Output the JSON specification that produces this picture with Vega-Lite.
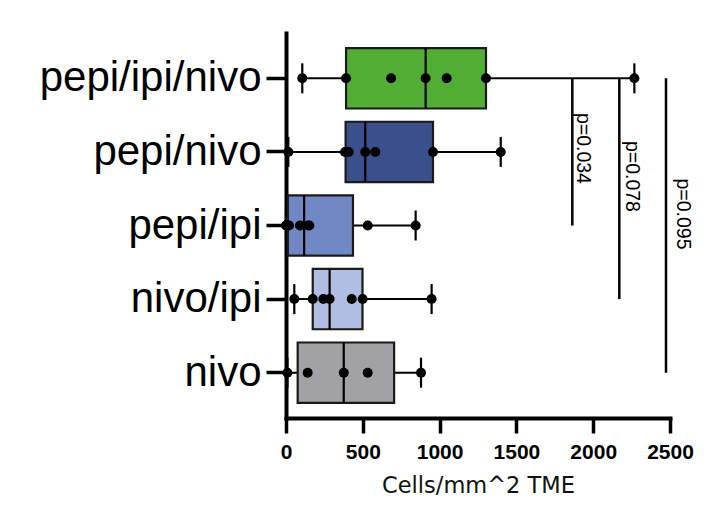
{
  "$schema": "https://vega.github.io/schema/vega-lite/v6.json",
  "width": 384,
  "height": 385,
  "autosize": {"type": "none"},
  "padding": {"left": 286, "top": 33, "right": 42, "bottom": 87},
  "background": "white",
  "config": {"view": {"stroke": null}, "font": "Liberation Sans"},
  "datasets": {
    "boxes": [
      {"group": "pepi/ipi/nivo", "min": 106, "q1": 391, "median": 909, "q3": 1302, "max": 2268},
      {"group": "pepi/nivo", "min": 15, "q1": 388, "median": 516, "q3": 957, "max": 1398},
      {"group": "pepi/ipi", "min": 0, "q1": 12, "median": 118, "q3": 436, "max": 844},
      {"group": "nivo/ipi", "min": 54, "q1": 174, "median": 284, "q3": 498, "max": 948},
      {"group": "nivo", "min": 9, "q1": 76, "median": 376, "q3": 704, "max": 879}
    ],
    "points": [
      {"group": "pepi/ipi/nivo", "value": 106},
      {"group": "pepi/ipi/nivo", "value": 391},
      {"group": "pepi/ipi/nivo", "value": 684},
      {"group": "pepi/ipi/nivo", "value": 909},
      {"group": "pepi/ipi/nivo", "value": 1046},
      {"group": "pepi/ipi/nivo", "value": 1302},
      {"group": "pepi/ipi/nivo", "value": 2268},
      {"group": "pepi/nivo", "value": 15},
      {"group": "pepi/nivo", "value": 384},
      {"group": "pepi/nivo", "value": 408},
      {"group": "pepi/nivo", "value": 516},
      {"group": "pepi/nivo", "value": 581},
      {"group": "pepi/nivo", "value": 957},
      {"group": "pepi/nivo", "value": 1398},
      {"group": "pepi/ipi", "value": 0},
      {"group": "pepi/ipi", "value": 4},
      {"group": "pepi/ipi", "value": 20},
      {"group": "pepi/ipi", "value": 91},
      {"group": "pepi/ipi", "value": 145},
      {"group": "pepi/ipi", "value": 152},
      {"group": "pepi/ipi", "value": 532},
      {"group": "pepi/ipi", "value": 844},
      {"group": "nivo/ipi", "value": 54},
      {"group": "nivo/ipi", "value": 174},
      {"group": "nivo/ipi", "value": 243},
      {"group": "nivo/ipi", "value": 284},
      {"group": "nivo/ipi", "value": 428},
      {"group": "nivo/ipi", "value": 499},
      {"group": "nivo/ipi", "value": 948},
      {"group": "nivo", "value": 9},
      {"group": "nivo", "value": 141},
      {"group": "nivo", "value": 376},
      {"group": "nivo", "value": 532},
      {"group": "nivo", "value": 879}
    ],
    "pvals": [
      {"label": "p=0.034", "x": 1864, "from": "pepi/ipi/nivo", "to": "pepi/ipi"},
      {"label": "p=0.078", "x": 2170, "from": "pepi/ipi/nivo", "to": "nivo/ipi"},
      {"label": "p=0.095", "x": 2474, "from": "pepi/ipi/nivo", "to": "nivo"}
    ]
  },
  "layer": [
    {
      "data": {"name": "boxes"},
      "mark": {"type": "rule", "color": "black", "strokeWidth": 2},
      "encoding": {
        "y": {
          "field": "group", "type": "nominal",
          "scale": {"domain": ["pepi/ipi/nivo", "pepi/nivo", "pepi/ipi", "nivo/ipi", "nivo"], "paddingInner": 0, "paddingOuter": 0.116},
          "axis": {
            "title": null, "domainColor": "black", "domainWidth": 4, "domainCap": "square",
            "tickColor": "black", "tickWidth": 3.5, "tickSize": 20,
            "labelFont": "Liberation Sans", "labelFontSize": 42, "labelColor": "black", "labelPadding": 5,
            "labelLimit": 0, "grid": false
          }
        },
        "x": {
          "field": "min", "type": "quantitative",
          "scale": {"domain": [0, 2500], "nice": false},
          "axis": {
            "values": [0, 500, 1000, 1500, 2000, 2500], "format": "d",
            "title": "Cells/mm^2 TME", "titleFont": "DejaVu Sans", "titleFontSize": 22.5, "titleFontWeight": "normal",
            "titleColor": "#111", "titlePadding": 12,
            "domainColor": "black", "domainWidth": 4, "domainCap": "square",
            "tickColor": "black", "tickWidth": 3.5, "tickSize": 15,
            "labelFont": "Liberation Sans", "labelFontWeight": "bold", "labelFontSize": 21, "labelColor": "black",
            "labelPadding": 8, "labelOverlap": false, "labelFlush": false, "grid": false
          }
        },
        "x2": {"field": "max"}
      }
    },
    {
      "data": {"name": "boxes"},
      "mark": {"type": "tick", "orient": "vertical", "size": 30, "thickness": 2.2, "color": "black", "opacity": 1},
      "encoding": {
        "y": {"field": "group", "type": "nominal"},
        "x": {"field": "min", "type": "quantitative"}
      }
    },
    {
      "data": {"name": "boxes"},
      "mark": {"type": "tick", "orient": "vertical", "size": 30, "thickness": 2.2, "color": "black", "opacity": 1},
      "encoding": {
        "y": {"field": "group", "type": "nominal"},
        "x": {"field": "max", "type": "quantitative"}
      }
    },
    {
      "data": {"name": "boxes"},
      "mark": {"type": "bar", "height": {"band": 0.82}, "stroke": "#1a1a1a", "strokeWidth": 2.2, "opacity": 1},
      "encoding": {
        "y": {"field": "group", "type": "nominal"},
        "x": {"field": "q1", "type": "quantitative"},
        "x2": {"field": "q3"},
        "fill": {
          "field": "group", "type": "nominal",
          "scale": {
            "domain": ["pepi/ipi/nivo", "pepi/nivo", "pepi/ipi", "nivo/ipi", "nivo"],
            "range": ["#52ad34", "#3a4f8c", "#7088c6", "#b1bee3", "#a2a2a6"]
          },
          "legend": null
        }
      }
    },
    {
      "data": {"name": "boxes"},
      "mark": {"type": "tick", "orient": "vertical", "size": 60, "thickness": 2.2, "color": "black", "opacity": 1},
      "encoding": {
        "y": {"field": "group", "type": "nominal"},
        "x": {"field": "median", "type": "quantitative"}
      }
    },
    {
      "data": {"name": "points"},
      "mark": {"type": "circle", "size": 100, "color": "black", "opacity": 1},
      "encoding": {
        "y": {"field": "group", "type": "nominal"},
        "x": {"field": "value", "type": "quantitative"}
      }
    },
    {
      "data": {"name": "pvals"},
      "mark": {"type": "rule", "color": "black", "strokeWidth": 2.5},
      "encoding": {
        "y": {"field": "from", "type": "nominal"},
        "y2": {"field": "to"},
        "x": {"field": "x", "type": "quantitative"}
      }
    },
    {
      "data": {"name": "pvals"},
      "transform": [{"filter": "datum.label === 'p=0.034'"}],
      "mark": {"type": "text", "angle": 90, "align": "center", "baseline": "alphabetic", "dx": -3.5, "dy": -5, "fontSize": 19.5, "font": "Liberation Sans", "color": "black"},
      "encoding": {
        "y": {"datum": "pepi/nivo", "type": "nominal"},
        "x": {"field": "x", "type": "quantitative"},
        "text": {"field": "label"}
      }
    },
    {
      "data": {"name": "pvals"},
      "transform": [{"filter": "datum.label === 'p=0.078'"}],
      "mark": {"type": "text", "angle": 90, "align": "center", "baseline": "alphabetic", "dx": 24.5, "dy": -7, "fontSize": 19.5, "font": "Liberation Sans", "color": "black"},
      "encoding": {
        "y": {"datum": "pepi/nivo", "type": "nominal"},
        "x": {"field": "x", "type": "quantitative"},
        "text": {"field": "label"}
      }
    },
    {
      "data": {"name": "pvals"},
      "transform": [{"filter": "datum.label === 'p=0.095'"}],
      "mark": {"type": "text", "angle": 90, "align": "center", "baseline": "alphabetic", "dx": -11.5, "dy": -10.5, "fontSize": 19.5, "font": "Liberation Sans", "color": "black"},
      "encoding": {
        "y": {"datum": "pepi/ipi", "type": "nominal"},
        "x": {"field": "x", "type": "quantitative"},
        "text": {"field": "label"}
      }
    }
  ]
}
